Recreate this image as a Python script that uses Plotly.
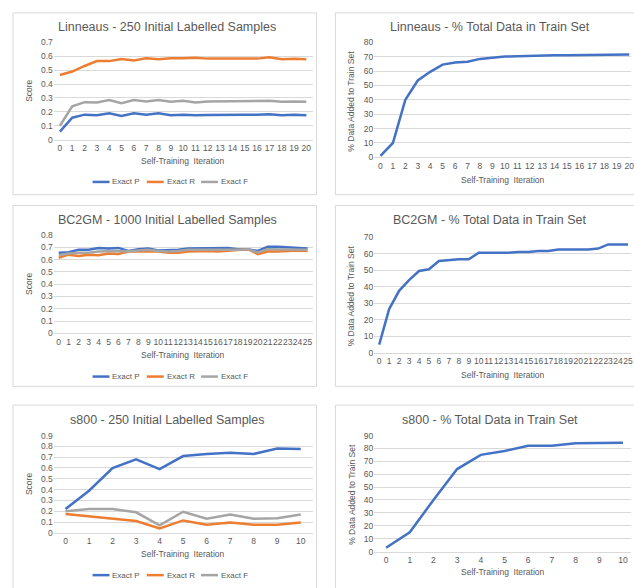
import plotly.graph_objects as go

W, H = 634, 588

# ---------------- data ----------------
iters_lin = list(range(21))
lin_p = [0.058, 0.158, 0.18, 0.175, 0.19, 0.17, 0.19, 0.18, 0.19, 0.175, 0.18,
         0.175, 0.178, 0.18, 0.183, 0.18, 0.18, 0.183, 0.175, 0.18, 0.175]
lin_r = [0.465, 0.49, 0.53, 0.565, 0.565, 0.58, 0.57, 0.585, 0.578, 0.585, 0.585,
         0.59, 0.583, 0.583, 0.583, 0.583, 0.583, 0.592, 0.578, 0.582, 0.578]
lin_f = [0.10, 0.24, 0.27, 0.268, 0.285, 0.263, 0.285, 0.275, 0.285, 0.272, 0.28,
         0.268, 0.275, 0.275, 0.278, 0.275, 0.275, 0.28, 0.272, 0.275, 0.272]
lin_pct = [1, 10, 40, 53.5, 59.5, 64.5, 66, 66.5, 68.5, 69.5, 70.2,
           70.3, 70.6, 71, 71, 71, 71, 71, 71.5, 71.5, 71.5]

iters_bc = list(range(26))
bc_p = [0.655, 0.66, 0.68, 0.68, 0.695, 0.69, 0.695, 0.67, 0.685, 0.69, 0.675, 0.675, 0.68,
        0.69, 0.69, 0.69, 0.69, 0.695, 0.685, 0.685, 0.67, 0.705, 0.705, 0.70, 0.695, 0.69]
bc_r = [0.615, 0.64, 0.63, 0.64, 0.635, 0.65, 0.645, 0.665, 0.665, 0.665, 0.665, 0.655, 0.655,
        0.665, 0.67, 0.67, 0.665, 0.67, 0.675, 0.685, 0.645, 0.665, 0.665, 0.67, 0.675, 0.67]
bc_f = [0.635, 0.65, 0.655, 0.655, 0.665, 0.67, 0.67, 0.667, 0.675, 0.68, 0.67, 0.665, 0.67,
        0.68, 0.68, 0.68, 0.678, 0.683, 0.68, 0.685, 0.658, 0.685, 0.685, 0.685, 0.685, 0.68]
bc_pct = [5, 26.5, 37.5, 44, 49.5, 50.5, 55.5, 56, 56.5, 56.5, 60.5, 60.5, 60.5,
          60.5, 61, 61, 61.5, 61.5, 62.5, 62.5, 62.5, 62.5, 63, 65.5, 65.5, 65.5]

iters_s8 = list(range(11))
s8_p = [0.22, 0.39, 0.60, 0.68, 0.59, 0.71, 0.73, 0.74, 0.73, 0.78, 0.775]
s8_r = [0.175, 0.155, 0.135, 0.11, 0.04, 0.115, 0.075, 0.095, 0.075, 0.075, 0.095]
s8_f = [0.20, 0.22, 0.22, 0.19, 0.07, 0.195, 0.13, 0.17, 0.13, 0.135, 0.17]
s8_pct = [3, 15, 40, 64, 75, 78, 82, 82, 84, 84.5, 84.5]

series_names = ["Exact P", "Exact R", "Exact F"]
titles_left = ["Linneaus - 250 Initial Labelled Samples",
               "BC2GM - 1000 Initial Labelled Samples",
               "s800 - 250 Initial Labelled Samples"]
titles_right = ["Linneaus - % Total Data in Train Set",
                "BC2GM - % Total Data in Train Set",
                "s800 - % Total Data in Train Set"]
x_title = "Self-Training\u00a0 Iteration"
y_title_left = "Score"
y_title_right = "% Data Added to Train Set"

# ---------------- style ----------------
COLORS = ["#4472C4", "#ED7D31", "#A5A5A5"]
TXT = "#595959"
GRID = "#D9D9D9"
FONT = "Liberation Sans"


def fx(px):
    return px / W


def fy(py):
    return 1 - py / H


fig = go.Figure()

rows = [
    dict(it=iters_lin, s=[lin_p, lin_r, lin_f], pct=lin_pct,
         lrange=0.7, ltop=38, lbot=137, rrange=80, rtop=38, rbot=155,
         rxmax=20.14, box=(8, 193), title_y=22, lxt=159, leg=180, rxt=178),
    dict(it=iters_bc, s=[bc_p, bc_r, bc_f], pct=bc_pct,
         lrange=0.8, ltop=234, lbot=334, rrange=70, rtop=236, rbot=354,
         rxmax=25.3, box=(204, 388), title_y=219, lxt=356, leg=378, rxt=376),
    dict(it=iters_s8, s=[s8_p, s8_r, s8_f], pct=s8_pct,
         lrange=0.9, ltop=438, lbot=537, rrange=90, rtop=438, rbot=556,
         rxmax=10.34, box=(407, 600), title_y=422, lxt=559, leg=580, rxt=577),
]

shapes = []
annotations = []
layout_axes = {}


def txt(text, x, y, size, angle=0, anchor="center"):
    return dict(text=text, xref="paper", yref="paper", x=fx(x), y=fy(y), showarrow=False,
                xanchor=anchor, yanchor="middle", textangle=angle,
                font=dict(size=size, color=TXT, family=FONT))


for i, rw in enumerate(rows):
    la = 2 * i + 1
    ra = 2 * i + 2
    lx = "x" if la == 1 else f"x{la}"
    ly = "y" if la == 1 else f"y{la}"
    rx, ry = f"x{ra}", f"y{ra}"
    n = len(rw["it"])

    for name, vals, col in zip(series_names, rw["s"], COLORS):
        fig.add_trace(go.Scatter(x=rw["it"], y=vals, mode="lines", name=name,
                                 line=dict(color=col, width=2.5), showlegend=False,
                                 xaxis=lx, yaxis=ly))
    fig.add_trace(go.Scatter(x=rw["it"], y=rw["pct"], mode="lines", showlegend=False,
                             name="% Data Added", line=dict(color=COLORS[0], width=2.5),
                             xaxis=rx, yaxis=ry))

    xcommon = dict(showgrid=False, zeroline=False, showline=True, linecolor=GRID,
                   ticks="", tickangle=0, tickfont=dict(size=8.5, color=TXT, family=FONT),
                   tickvals=rw["it"], fixedrange=True)
    ycommon = dict(showgrid=True, gridcolor=GRID, zeroline=False, showline=False, ticks="",
                   tickfont=dict(size=8.5, color=TXT, family=FONT), fixedrange=True)

    layout_axes["xaxis" if la == 1 else f"xaxis{la}"] = dict(
        xcommon, domain=[fx(54), fx(314)], range=[-0.5, n - 0.5], anchor=ly)
    layout_axes["yaxis" if la == 1 else f"yaxis{la}"] = dict(
        ycommon, domain=[fy(rw["lbot"]), fy(rw["ltop"])], range=[0, rw["lrange"] + 1e-9],
        dtick=0.1, anchor=lx)
    layout_axes[f"xaxis{ra}"] = dict(
        xcommon, domain=[fx(376), 1.0], range=[-0.5, rw["rxmax"]], anchor=ry,
        ticklabeloverflow="allow")
    layout_axes[f"yaxis{ra}"] = dict(
        ycommon, domain=[fy(rw["rbot"]), fy(rw["rtop"])], range=[0, rw["rrange"] + 1e-6],
        dtick=10, anchor=rx)

    # panel boxes
    b0, b1 = rw["box"]
    shapes.append(dict(type="rect", xref="paper", yref="paper", x0=fx(13), x1=fx(318),
                       y0=fy(b1), y1=fy(b0), line=dict(color=GRID, width=1), layer="below"))
    shapes.append(dict(type="rect", xref="paper", yref="paper", x0=fx(337), x1=fx(660),
                       y0=fy(b1), y1=fy(b0), line=dict(color=GRID, width=1), layer="below"))

    # titles and axis titles
    annotations.append(txt(titles_left[i], 168, rw["title_y"], 12.5))
    annotations.append(txt(titles_right[i], 492, rw["title_y"], 12.5))
    annotations.append(txt(x_title, 184, rw["lxt"], 8.5))
    annotations.append(txt(x_title, 505, rw["rxt"], 8.5))
    annotations.append(txt(y_title_left, 29, (rw["ltop"] + rw["lbot"]) / 2, 8.5, -90))
    annotations.append(txt(y_title_right, 353, 98 + (rw["rtop"] - 38), 8.5, -90))

    # legend (swatch + label) under each score chart
    for k, (name, col) in enumerate(zip(series_names, COLORS)):
        x0 = 93 + 54.5 * k
        shapes.append(dict(type="line", xref="paper", yref="paper", x0=fx(x0), x1=fx(x0 + 17),
                           y0=fy(rw["leg"]), y1=fy(rw["leg"]), line=dict(color=col, width=2.5)))
        annotations.append(txt(name, x0 + 18, rw["leg"], 8, anchor="left"))

fig.update_layout(
    width=W, height=H,
    margin=dict(l=0, r=0, t=0, b=0),
    paper_bgcolor="white", plot_bgcolor="white",
    font=dict(family=FONT, color=TXT),
    showlegend=False,
    shapes=shapes, annotations=annotations,
    **layout_axes,
)

fig.write_html("out.html", config={"displayModeBar": False},
               post_script="document.body.style.margin='0';document.body.style.overflow='hidden';")
